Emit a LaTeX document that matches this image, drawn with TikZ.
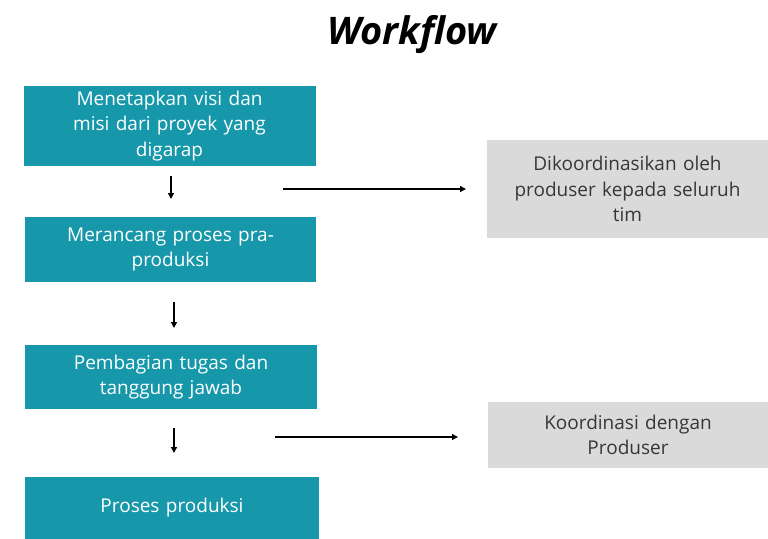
\documentclass[tikz,border=0pt]{standalone}
\usepackage{fontspec}
\setmainfont{Open Sans}
\usetikzlibrary{arrows.meta}
\definecolor{teal1}{RGB}{22,152,170}
\definecolor{gray1}{RGB}{218,218,218}
\definecolor{txtg}{RGB}{55,55,55}
\tikzset{
  mainbox/.style={fill=teal1, text=white, minimum width=#1, inner sep=0pt, align=center, font=\fontsize{19}{25.5}\selectfont, text width=275pt},
  sidebox/.style={fill=gray1, text=txtg, inner sep=0pt, align=center, font=\fontsize{19}{25.5}\selectfont, text width=275pt},
  arr/.style={line width=1.3pt, -{Triangle[length=6pt,width=6pt]}},
}
\begin{document}
\begin{tikzpicture}[x=1pt,y=-1pt]
\useasboundingbox (0,0) rectangle (768,538);
\node[font=\fontsize{38}{40}\selectfont\bfseries\itshape] (title) at (412,35) {Workflow};
\node[mainbox=292pt, minimum height=80pt] (b1) at (169.5,126) {Menetapkan visi dan\\misi dari proyek yang\\digarap};
\node[mainbox=291pt, minimum height=65pt] (b2) at (170.5,249.5) {Merancang proses pra-\\produksi};
\node[mainbox=292pt, minimum height=64pt] (b3) at (171,377) {Pembagian tugas dan\\tanggung jawab};
\node[mainbox=294pt, minimum height=63pt] (b4) at (172,508) {Proses produksi\\[-8pt]};
\node[sidebox, minimum width=281pt, minimum height=98pt] (s1) at (627.5,189) {Dikoordinasikan oleh\\produser kepada seluruh\\tim};
\node[sidebox, minimum width=280pt, minimum height=66pt] (s2) at (628,435) {Koordinasi dengan\\Produser};
\coordinate (d1a) at (171,176); \coordinate (d1b) at (171,199);
\coordinate (d2a) at (174,302); \coordinate (d2b) at (174,328);
\coordinate (d3a) at (174,428); \coordinate (d3b) at (174,453);
\coordinate (h1a) at (283,189); \coordinate (h1b) at (466,189);
\coordinate (h2a) at (275,437); \coordinate (h2b) at (458,437);
\draw[arr] (d1a) -- (d1b);
\draw[arr] (d2a) -- (d2b);
\draw[arr] (d3a) -- (d3b);
\draw[arr] (h1a) -- (h1b);
\draw[arr] (h2a) -- (h2b);
\end{tikzpicture}
\end{document}
